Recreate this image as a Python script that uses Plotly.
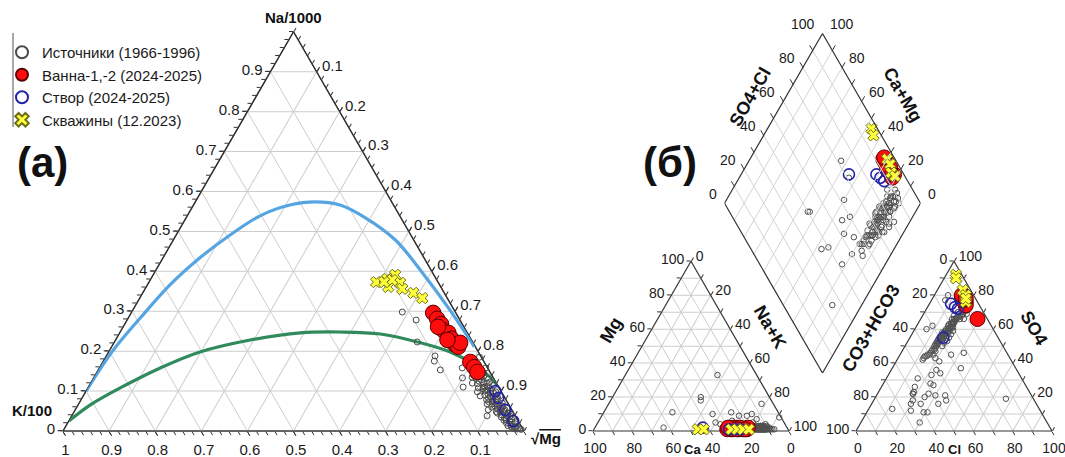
import numpy as np
import plotly.graph_objects as go

W, H = 1065, 457
FONT = "Arial, 'Liberation Sans', Helvetica, sans-serif"

NAMES = ["Источники (1966-1996)", "Ванна-1,-2 (2024-2025)", "Створ (2024-2025)", "Скважины (12.2023)"]

# ================= (a) Giggenbach diagram: Na/1000 - K/100 - sqrt(Mg) (fractions) =================
src_na = [0.298, 0.278, 0.223, 0.188, 0.175, 0.153, 0.158, 0.133, 0.135, 0.120, 0.110, 0.098, 0.185, 0.158,
          0.110, 0.088, 0.068, 0.053, 0.038, 0.045,
          0.150, 0.145, 0.140, 0.135, 0.130, 0.125, 0.120, 0.115, 0.110, 0.108, 0.105, 0.100, 0.098, 0.095,
          0.090, 0.088, 0.085, 0.080, 0.078, 0.075, 0.070, 0.068, 0.065, 0.060, 0.058, 0.055, 0.050, 0.048,
          0.045, 0.040, 0.038, 0.035, 0.030, 0.028, 0.025, 0.020, 0.018, 0.015, 0.012, 0.010, 0.008, 0.005,
          0.004, 0.120, 0.100, 0.085, 0.072, 0.062, 0.052, 0.042, 0.032, 0.022,
          0.148, 0.142, 0.138, 0.132, 0.128, 0.122, 0.118, 0.112, 0.106, 0.102, 0.096, 0.092, 0.086, 0.082,
          0.076, 0.073, 0.067, 0.063, 0.057, 0.053, 0.047, 0.043, 0.037, 0.033, 0.027, 0.023, 0.017, 0.013,
          0.009, 0.006]
src_k = [0.115, 0.095, 0.120, 0.099, 0.107, 0.105, 0.055, 0.067, 0.045, 0.052, 0.077, 0.052, 0.004, 0.004,
         0.033, 0.051, 0.046, 0.051, 0.061, 0.035,
         0.030, 0.015, 0.040, 0.025, 0.012, 0.035, 0.020, 0.008, 0.030, 0.045, 0.018, 0.035, 0.012, 0.025,
         0.040, 0.008, 0.030, 0.018, 0.042, 0.030, 0.012, 0.035, 0.022, 0.040, 0.008, 0.030, 0.018, 0.036,
         0.012, 0.028, 0.018, 0.032, 0.012, 0.025, 0.018, 0.028, 0.010, 0.020, 0.012, 0.022, 0.008, 0.012,
         0.004, 0.028, 0.022, 0.015, 0.025, 0.015, 0.025, 0.008, 0.022, 0.015,
         0.022, 0.032, 0.018, 0.038, 0.028, 0.014, 0.042, 0.024, 0.036, 0.028, 0.018, 0.032, 0.024, 0.036,
         0.020, 0.040, 0.028, 0.032, 0.022, 0.015, 0.028, 0.020, 0.012, 0.026, 0.030, 0.008, 0.022, 0.028,
         0.015, 0.018]

van_na = [0.296, 0.281, 0.268, 0.253, 0.246, 0.231, 0.218, 0.211, 0.221, 0.228, 0.173, 0.160, 0.148, 0.261]
van_k = [0.049, 0.048, 0.046, 0.049, 0.041, 0.042, 0.042, 0.037, 0.028, 0.052, 0.030, 0.028, 0.027, 0.056]
van_mg = [0.655, 0.671, 0.686, 0.698, 0.713, 0.727, 0.740, 0.752, 0.751, 0.720, 0.797, 0.812, 0.825, 0.683]

stv_na = [0.100, 0.083, 0.053, 0.025]
stv_k = [0.012, 0.014, 0.014, 0.011]
stv_mg = [0.888, 0.903, 0.933, 0.964]

skv_na = [0.373, 0.381, 0.391, 0.361, 0.371, 0.356, 0.346, 0.333, 0.378, 0.373]
skv_k = [0.134, 0.106, 0.084, 0.114, 0.083, 0.086, 0.067, 0.054, 0.097, 0.117]
skv_mg = [0.493, 0.513, 0.525, 0.525, 0.546, 0.558, 0.587, 0.613, 0.525, 0.510]

# full equilibrium line (blue) and immature-water boundary (green)
full_na = [0.10, 0.198, 0.283, 0.366, 0.434, 0.491, 0.539, 0.566, 0.574, 0.566, 0.534, 0.479, 0.396, 0.311, 0.211]
full_k = [0.90, 0.795, 0.691, 0.585, 0.486, 0.392, 0.303, 0.225, 0.166, 0.116, 0.077, 0.040, 0.022, 0.010, 0.002]
imm_na = [0.025, 0.065, 0.108, 0.158, 0.198, 0.228, 0.246, 0.248, 0.243, 0.221, 0.198, 0.165, 0.135, 0.110]
imm_k = [0.975, 0.909, 0.822, 0.710, 0.604, 0.480, 0.362, 0.275, 0.190, 0.114, 0.061, 0.023, 0.006, 0.000]

GIG_TICKS = [round(0.1 * i, 1) for i in range(11)]

# ================= (б) Piper diagram, % (cations: Ca, Mg, Na+K; anions: CO3+HCO3, SO4, Cl) =================
src_ca = [12, 14, 16, 10, 13, 15, 11, 17, 9, 14, 12, 16, 18, 10, 13, 15, 17, 11, 8, 19, 14, 16, 12, 15, 17, 13, 9,
          20, 18, 11, 7, 14, 16, 13, 19, 12, 10, 15, 17, 9, 12, 14,
          13, 15, 11, 17, 12, 14, 16, 10, 13, 18, 12, 15, 14, 16, 11, 13, 17, 15, 12, 14, 16, 13, 15, 18,
          14, 12, 16, 13, 15, 17, 11, 14, 16, 13, 15, 12, 17, 14,
          35, 20, 34, 35, 24, 26, 21, 36, 32, 14, 33, 13, 6, 12,
          54, 63, 1, 17, 10, 16] + [None] * 18
src_mg = [1, 2, 1, 2, 3, 1, 1, 2, 1, 2, 3, 2, 1, 1, 1, 2, 3, 2, 1, 2, 1, 1, 2, 3, 1, 2, 2,
          1, 2, 1, 1, 3, 2, 1, 1, 1, 3, 1, 2, 1, 2, 1,
          2, 2, 1, 1, 2, 1, 3, 2, 1, 2, 1, 2, 2, 1, 2, 2, 2, 1, 3, 2, 2, 1, 2, 1,
          2, 1, 2, 2, 1, 2, 2, 1, 2, 3, 2, 2, 1, 2,
          20, 33, 10, 5, 11, 6, 9, 18, 2, 10, 4, 7, 16, 3,
          11, 2, 8, 9, 4, 5] + [None] * 18
src_nak = [87, 84, 83, 88, 84, 84, 88, 81, 90, 84, 85, 82, 81, 89, 86, 83, 80, 87, 91, 79, 85, 83, 86, 82, 82, 85, 89,
           79, 80, 88, 92, 83, 82, 86, 80, 87, 87, 84, 81, 90, 86, 85,
           85, 83, 88, 82, 86, 85, 81, 88, 86, 80, 87, 83, 84, 83, 87, 85, 81, 84, 85, 84, 82, 86, 83, 81,
           84, 87, 82, 85, 84, 81, 87, 85, 82, 84, 83, 86, 82, 84,
           45, 47, 56, 60, 65, 68, 70, 46, 66, 76, 63, 80, 78, 85,
           35, 35, 91, 74, 86, 79] + [None] * 18
src_hco3 = [10, 12, 9, 14, 16, 18, 20, 15, 22, 24, 21, 26, 19, 28, 30, 25, 32, 27, 23, 13, 34, 36, 38, 40, 29, 17, 11,
            8, 22, 31, 19, 14, 42, 45, 26, 33, 18, 21, 35, 27, 13, 16,
            11, 13, 15, 17, 19, 20, 22, 23, 24, 25, 26, 27, 28, 29, 30, 31, 32, 33, 34, 35, 37, 39, 41, 43,
            16, 18, 20, 23, 25, 27, 12, 9, 21, 29, 31, 36, 38, 44,
            60, 28, 29, 38, 45, 40, 48, 59, 60, 44, 64, 50, 58, 75] + [None] * 6 + \
           [53, 45, 14, 52, 65, 59, 60, 22, 49, 55, 62, 47, 41, 37, 57, 34, 30, 66]
src_so4 = [70, 68, 72, 66, 66, 64, 62, 67, 61, 58, 63, 57, 64, 55, 54, 59, 52, 58, 60, 70, 50, 48, 47, 45, 55, 66, 70,
           71, 60, 53, 63, 67, 44, 42, 56, 51, 64, 61, 49, 56, 80, 77,
           69, 68, 67, 65, 63, 63, 62, 59, 60, 58, 58, 57, 56, 54, 55, 54, 53, 52, 51, 50, 48, 46, 45, 44,
           68, 66, 61, 57, 55, 53, 66, 69, 59, 52, 50, 47, 45, 43,
           22, 37, 45, 43, 33, 34, 28, 16, 11, 21, 16, 16, 11, 13] + [None] * 6 + \
          [31, 18, 19, 22, 5, 23, 22, 46, 21, 20, 18, 27, 36, 41, 26, 60, 62, 12]
src_cl = [20, 20, 19, 20, 18, 18, 18, 18, 17, 18, 16, 17, 17, 17, 16, 16, 16, 15, 17, 17, 16, 16, 15, 15, 16, 17, 19,
          21, 18, 16, 18, 19, 14, 13, 18, 16, 18, 18, 16, 17, 7, 7,
          20, 19, 18, 18, 18, 17, 16, 18, 16, 17, 16, 16, 16, 17, 15, 15, 15, 15, 15, 15, 15, 15, 14, 13,
          16, 16, 19, 20, 20, 20, 22, 22, 20, 19, 19, 17, 17, 13,
          18, 35, 26, 19, 22, 26, 24, 25, 29, 35, 20, 34, 31, 12] + [None] * 6 + \
         [16, 37, 67, 26, 30, 18, 18, 32, 30, 25, 20, 26, 23, 22, 17, 6, 8, 22]

van_ca = [31, 29, 27, 25, 23, 21, 20, 28, 24, 26, 22, 30]
van_mgp = [1, 1, 2, 1, 1, 1, 2, 1, 2, 1, 1, 2]
van_nak = [68, 70, 71, 74, 76, 78, 78, 71, 74, 73, 77, 68]
van_hco3 = [6, 6, 5, 7, 6, 5, 7, 6, 5, 7, 6, 5]
van_so4 = [77, 79, 80, 78, 76, 79, 74, 78, 66, 77, 80, 78]
van_cl = [17, 15, 15, 15, 18, 16, 19, 16, 29, 16, 14, 17]

stv_ca = [43, 30, 24, 27]
stv_mgp = [2, 1, 1, 1]
stv_nak = [55, 69, 75, 72]
stv_hco3 = [28, 14, 12, 13]
stv_so4 = [55, 75, 72, 73]
stv_cl = [17, 11, 16, 14]

skv_ca = [46, 43, 29, 26, 23, 20]
skv_mgp = [1, 1, 1, 1, 1, 1]
skv_nak = [53, 56, 70, 73, 76, 79]
skv_hco3 = [3, 4, 4, 4, 6, 5]
skv_so4 = [92, 90, 83, 80, 76, 78]
skv_cl = [5, 6, 13, 16, 18, 17]

PIPER_TICKS = list(range(0, 101, 10))

# ================= styles =================
ST = {
    0: dict(symbol="circle-open", size=6, color="#4a4a4a", line=dict(width=1)),
    1: dict(symbol="circle", size=15.5, color="#ff0d0d", line=dict(color="#5a0000", width=1)),
    2: dict(symbol="circle-open", size=11, color="#2323a8", line=dict(width=1.6)),
    3: dict(symbol="x", size=10, color="#ffff3a", line=dict(color="#6e6e1a", width=1)),
}
STP = {
    0: dict(symbol="circle-open", size=5.5, color="#505050", line=dict(width=1)),
    1: dict(symbol="circle", size=15, color="#ff0d0d", line=dict(color="#5a0000", width=1)),
    2: dict(symbol="circle-open", size=11, color="#2323a8", line=dict(width=1.6)),
    3: dict(symbol="x", size=10, color="#ffff3a", line=dict(color="#6e6e1a", width=1)),
}


def arr(v):
    return np.array([np.nan if x is None else x for x in v], dtype=float)


fig = go.Figure()

# invisible trace so the minor-tick overlay ternary is drawn
fig.add_trace(go.Scatterternary(a=[1], b=[0], c=[0], mode="markers", marker=dict(opacity=0),
                                subplot="ternary", showlegend=False, hoverinfo="skip"))

# curves (a)
for na, k, col in [(full_na, full_k, "#56a5e3"), (imm_na, imm_k, "#2f8a5c")]:
    na_a, k_a = np.array(na), np.array(k)
    fig.add_trace(go.Scatterternary(a=na_a, b=k_a, c=1 - na_a - k_a, mode="lines",
                                    line=dict(color=col, width=3.2, shape="spline"),
                                    subplot="ternary2", showlegend=False, hoverinfo="skip"))

src_na_a, src_k_a = np.array(src_na), np.array(src_k)
gig_sets = [
    (src_na_a, src_k_a, 1 - src_na_a - src_k_a),
    (van_na, van_k, van_mg),
    (stv_na, stv_k, stv_mg),
    (skv_na, skv_k, skv_mg),
]
for i, (na, k, mg) in enumerate(gig_sets):
    fig.add_trace(go.Scatterternary(a=na, b=k, c=mg, mode="markers", name=NAMES[i], marker=ST[i],
                                    subplot="ternary2", showlegend=True, cliponaxis=False))

# Piper triangles and diamond
piper_sets = [
    (src_ca, src_mg, src_nak, src_hco3, src_so4, src_cl),
    (van_ca, van_mgp, van_nak, van_hco3, van_so4, van_cl),
    (stv_ca, stv_mgp, stv_nak, stv_hco3, stv_so4, stv_cl),
    (skv_ca, skv_mgp, skv_nak, skv_hco3, skv_so4, skv_cl),
]
S3 = np.sqrt(3)
for i, (ca, mg, nak, hco3, so4, cl) in enumerate(piper_sets):
    ca, mg, nak, hco3, so4, cl = map(arr, (ca, mg, nak, hco3, so4, cl))
    fig.add_trace(go.Scatterternary(a=mg, b=ca, c=nak, mode="markers", marker=STP[i], subplot="ternary3",
                                    showlegend=False, cliponaxis=False, name=NAMES[i]))
    fig.add_trace(go.Scatterternary(a=so4, b=hco3, c=cl, mode="markers", marker=STP[i], subplot="ternary4",
                                    showlegend=False, cliponaxis=False, name=NAMES[i]))
    alpha = (so4 + cl) / 100.0
    beta = (ca + mg) / 100.0
    fig.add_trace(go.Scatter(x=0.5 * (alpha - beta), y=S3 / 2 * (alpha + beta), mode="markers", marker=STP[i],
                             xaxis="x", yaxis="y", showlegend=False, cliponaxis=False, name=NAMES[i]))


# diamond frame, grid and ticks
def dpt(al, be):
    return 0.5 * (al - be), S3 / 2 * (al + be)


gx, gy = [], []
for v in PIPER_TICKS[1:-1]:
    f = v / 100
    for p, q in [(dpt(f, 0), dpt(f, 1)), (dpt(0, f), dpt(1, f))]:
        gx += [p[0], q[0], None]
        gy += [p[1], q[1], None]
fig.add_trace(go.Scatter(x=gx, y=gy, mode="lines", line=dict(color="#d4d4d4", width=1), xaxis="x", yaxis="y",
                         showlegend=False, hoverinfo="skip"))
ex, ey = zip(*[dpt(0, 0), dpt(1, 0), dpt(1, 1), dpt(0, 1), dpt(0, 0)])
tx, ty = [], []
for v in PIPER_TICKS:
    f = v / 100
    for p, q in [(dpt(f, 1), dpt(f, 1.03)), (dpt(1, f), dpt(1.03, f))]:
        tx += [p[0], q[0], None]
        ty += [p[1], q[1], None]
fig.add_trace(go.Scatter(x=tx, y=ty, mode="lines", line=dict(color="#333", width=1), xaxis="x", yaxis="y",
                         showlegend=False, hoverinfo="skip", cliponaxis=False))
fig.add_trace(go.Scatter(x=list(ex), y=list(ey), mode="lines", line=dict(color="#333", width=1.2), xaxis="x",
                         yaxis="y", showlegend=False, hoverinfo="skip", cliponaxis=False))


def pxp(x, y):
    return x / W, 1 - y / H


def tern_axis(vals, texts, size=15, grid=True, labels=True, ticklen=5):
    return dict(tickmode="array", tickvals=vals, ticktext=texts, ticks="outside", ticklen=ticklen, tickwidth=1,
                tickcolor="#333", linecolor="#333", linewidth=1.2, showgrid=grid, gridcolor="#cdcdcd",
                gridwidth=1, showticklabels=labels, tickfont=dict(size=size, color="#1a1a1a"),
                title=dict(text=""), layer="below traces", min=0)


ga = GIG_TICKS[:-1]
gb = GIG_TICKS[1:]
gc = GIG_TICKS[1:-1]
minor = [round(0.02 * i, 2) for i in range(51)]

dom_a = dict(x=[63 / W, 524 / W], y=[1 - 431 / H, 1 - 31.8 / H])
SIDE = 196
TRI_H = SIDE * S3 / 2
dom_cat = dict(x=[593 / W, (593 + SIDE) / W], y=[1 - 431 / H, 1 - (431 - TRI_H) / H])
dom_an = dict(x=[856 / W, (856 + SIDE) / W], y=[1 - 431 / H, 1 - (431 - TRI_H) / H])
D_BOT = 431 - (856 - 593 - SIDE) / 2 * S3
D_CX = (593 + SIDE + 856) / 2

pt = PIPER_TICKS
lab = [str(v) if v % 20 == 0 else "" for v in pt]
lab_rev = [str(100 - v) if v % 20 == 0 else "" for v in pt]
lab_rev_c = [t if v < 100 else "" for v, t in zip(pt, lab_rev)]
PFS = 14

layout = dict(
    width=W, height=H, margin=dict(l=0, r=0, t=0, b=0), paper_bgcolor="white", plot_bgcolor="white",
    font=dict(family=FONT, color="#111", size=14),
    ternary=dict(domain=dom_a, sum=1, bgcolor="white",
                 aaxis=tern_axis(minor, [""] * len(minor), grid=False, labels=False, ticklen=4),
                 baxis=tern_axis(minor, [""] * len(minor), grid=False, labels=False, ticklen=4),
                 caxis=tern_axis(minor, [""] * len(minor), grid=False, labels=False, ticklen=4)),
    ternary2=dict(domain=dom_a, sum=1, bgcolor="rgba(0,0,0,0)",
                  aaxis=tern_axis(ga, [("0" if v == 0 else f"{v:g}") for v in ga], ticklen=5),
                  baxis=tern_axis(gb, [f"{v:g}" for v in gb], ticklen=5),
                  caxis=tern_axis(gc, [f"{v:g}" for v in gc], ticklen=5)),
    ternary3=dict(domain=dom_cat, sum=100, bgcolor="white",
                  aaxis=tern_axis(pt, lab, size=PFS, ticklen=4),
                  baxis=tern_axis(pt, lab, size=PFS, ticklen=4),
                  caxis=tern_axis(pt, lab, size=PFS, ticklen=4)),
    ternary4=dict(domain=dom_an, sum=100, bgcolor="white",
                  aaxis=tern_axis(pt, lab_rev, size=PFS, ticklen=4),
                  baxis=tern_axis(pt, lab_rev, size=PFS, ticklen=4),
                  caxis=tern_axis(pt, lab_rev_c, size=PFS, ticklen=4)),
    xaxis=dict(domain=[(D_CX - SIDE / 2) / W, (D_CX + SIDE / 2) / W], range=[-0.5, 0.5], visible=False,
               fixedrange=True),
    yaxis=dict(domain=[1 - D_BOT / H, 1 - (D_BOT - SIDE * S3) / H], range=[0, S3], visible=False,
               fixedrange=True),
    legend=dict(x=2 / W, y=1 - 36 / H, xanchor="left", yanchor="top", font=dict(size=15, color="#1a1a1a"),
                bgcolor="rgba(0,0,0,0)", itemsizing="constant", tracegroupgap=0),
    showlegend=True,
)
fig.update_layout(**layout)

# legend side line
fig.add_shape(type="line", xref="paper", yref="paper", x0=13 / W, x1=13 / W, y0=1 - 33 / H, y1=1 - 127 / H,
              line=dict(color="#555", width=1))

ann = []


def add_text(text, x, y, size, bold=True, angle=0):
    xx, yy = pxp(x, y)
    ann.append(dict(text=f"<b>{text}</b>" if bold else text, x=xx, y=yy, xref="paper", yref="paper",
                    showarrow=False, textangle=angle, font=dict(size=size, color="#111"),
                    xanchor="center", yanchor="middle"))


add_text("(a)", 42, 163, 42)
add_text("(б)", 670, 163, 42)
add_text("Na/1000", 293, 18, 15)
add_text("K/100", 32, 410, 15)
add_text("√<span style='text-decoration:overline'>Mg</span>", 546, 438, 15)
add_text("SO4+Cl", 750, 97, 18, angle=-60)
add_text("Ca+Mg", 903, 95, 18, angle=60)
add_text("Mg", 611, 330, 18, angle=-60)
add_text("Na+K", 770, 327, 18, angle=60)
add_text("Ca", 692, 449, 13)
add_text("CO3+HCO3", 871, 328, 18, angle=-60)
add_text("SO4", 1034, 328, 18, angle=60)
add_text("Cl", 954, 449, 13)

# diamond tick labels
for v in pt:
    if v % 20:
        continue
    f = v / 100
    x, y = dpt(f, 1)
    ann.append(dict(text=str(v), x=x, y=y, xref="x", yref="y", showarrow=False, xanchor="right",
                    yanchor="middle", xshift=-6, yshift=9, font=dict(size=PFS, color="#1a1a1a")))
    x, y = dpt(1, f)
    ann.append(dict(text=str(v), x=x, y=y, xref="x", yref="y", showarrow=False, xanchor="left",
                    yanchor="middle", xshift=5, yshift=9, font=dict(size=PFS, color="#1a1a1a")))

fig.update_layout(annotations=ann)

fig.write_html("out.html", config={"displayModeBar": False},
               post_script="document.body.style.margin='0';document.body.style.overflow='hidden';")
